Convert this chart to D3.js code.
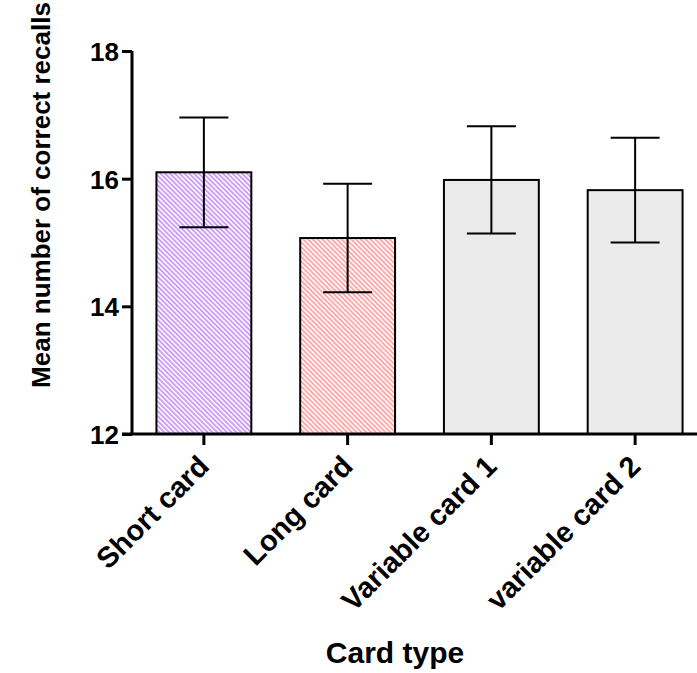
<!DOCTYPE html>
<html>
<head>
<meta charset="utf-8">
<script src="https://cdn.jsdelivr.net/npm/d3@7"></script>
<style>
body { margin: 0; background: #fff; }
text { font-family: "Liberation Sans", Arial, sans-serif; font-weight: bold; }
</style>
</head>
<body>
<script>
var categories = ["Short card", "Long card", "Variable card 1", "variable card 2"];
var means = [16.10, 15.07, 15.98, 15.82];
var sems = [0.86, 0.85, 0.84, 0.82];
var fills = ["url(#hatchPurple)", "url(#hatchPink)", "#ebebeb", "#ebebeb"];
var yTicks = [12, 14, 16, 18];

var width = 697, height = 673;
var svg = d3.select("body").append("svg").attr("width", width).attr("height", height);

// hatch patterns
var defs = svg.append("defs");
function hatch(id, color) {
	var p = defs.append("pattern").attr("id", id)
		.attr("patternUnits", "userSpaceOnUse")
		.attr("width", 3.4).attr("height", 3.4)
		.attr("patternTransform", "rotate(-45)");
	p.append("rect").attr("width", 3.4).attr("height", 3.4).attr("fill", "#fff");
	p.append("rect").attr("width", 1.9).attr("height", 3.4).attr("fill", color);
}
hatch("hatchPurple", "#cc9cf6");
hatch("hatchPink", "#ffa8a8");

var x = d3.scaleBand().domain(categories).range([132, 707]);
var y = d3.scaleLinear().domain([12, 18]).range([434, 51]);
var barW = x.bandwidth() * 0.66;

// bars
svg.selectAll("rect.bar").data(categories).enter().append("rect")
	.attr("class", "bar")
	.attr("x", function(d){ return x(d) + x.bandwidth()/2 - barW/2; })
	.attr("y", function(d, i){ return y(means[i]); })
	.attr("width", barW)
	.attr("height", function(d, i){ return y(12) - y(means[i]); })
	.attr("fill", function(d, i){ return fills[i]; })
	.attr("stroke", "#000").attr("stroke-width", 2);

// error bars
var capW = 49;
var eb = svg.selectAll("g.err").data(categories).enter().append("g").attr("class", "err")
	.attr("stroke", "#000").attr("stroke-width", 2);
eb.append("line")
	.attr("x1", function(d){ return x(d) + x.bandwidth()/2; })
	.attr("x2", function(d){ return x(d) + x.bandwidth()/2; })
	.attr("y1", function(d, i){ return y(means[i] - sems[i]); })
	.attr("y2", function(d, i){ return y(means[i] + sems[i]); });
[1, -1].forEach(function(s){
	eb.append("line")
		.attr("x1", function(d){ return x(d) + x.bandwidth()/2 - capW/2; })
		.attr("x2", function(d){ return x(d) + x.bandwidth()/2 + capW/2; })
		.attr("y1", function(d, i){ return y(means[i] + s*sems[i]); })
		.attr("y2", function(d, i){ return y(means[i] + s*sems[i]); });
});

// y axis
var yAxis = d3.axisLeft(y).tickValues(yTicks).tickSize(10).tickPadding(3).tickFormat(d3.format("d"));
var yAxisGroup = svg.append("g").attr("transform", "translate(132,0)").call(yAxis);
yAxisGroup.select(".domain").attr("d", "M0,51V434").attr("stroke-width", 3);
yAxisGroup.selectAll(".tick line").attr("stroke-width", 3);
yAxisGroup.selectAll(".tick text").attr("font-size", 26).attr("font-family", null).attr("dy", "0.36em");

// x axis
var xAxis = d3.axisBottom(x).tickSize(11).tickSizeOuter(0);
var xAxisGroup = svg.append("g").attr("transform", "translate(0,434)").call(xAxis);
xAxisGroup.select(".domain").attr("d", "M122,0H697").attr("stroke-width", 3);
xAxisGroup.selectAll(".tick line").attr("stroke-width", 3);
xAxisGroup.selectAll(".tick text")
	.attr("font-size", 29).attr("font-family", null)
	.attr("text-anchor", "end")
	.attr("transform", "translate(7,34) rotate(-45)")
	.attr("x", 0).attr("y", 0).attr("dy", 0);

// titles
svg.append("text").attr("transform", "translate(50,195) rotate(-90)")
	.attr("text-anchor", "middle").attr("font-size", 26)
	.text("Mean number of correct recalls");
svg.append("text").attr("x", 395).attr("y", 663)
	.attr("text-anchor", "middle").attr("font-size", 30)
	.text("Card type");
</script>
</body>
</html>
